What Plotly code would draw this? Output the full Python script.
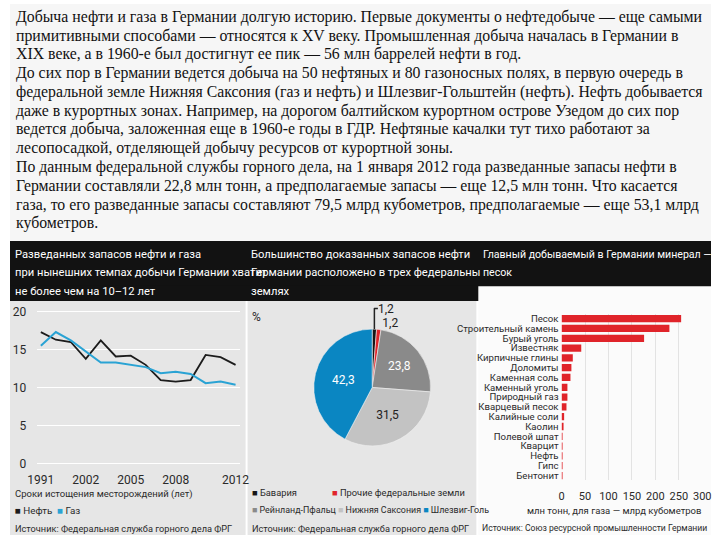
import plotly.graph_objects as go

# ---------------- data ----------------
para_lines = [
    "Добыча нефти и газа в Германии долгую историю. Первые документы о нефтедобыче — еще самыми",
    "примитивными способами — относятся к XV веку. Промышленная добыча началась в Германии в",
    "XIX веке, а в 1960-е был достигнут ее пик — 56 млн баррелей нефти в год.",
    "До сих пор в Германии ведется добыча на 50 нефтяных и 80 газоносных полях, в первую очередь в",
    "федеральной земле Нижняя Саксония (газ и нефть) и Шлезвиг-Гольштейн (нефть). Нефть добывается",
    "даже в курортных зонах. Например, на дорогом балтийском курортном острове Узедом до сих пор",
    "ведется добыча, заложенная еще в 1960-е годы в ГДР. Нефтяные качалки тут тихо работают за",
    "лесопосадкой, отделяющей добычу ресурсов от курортной зоны.",
    "По данным федеральной службы горного дела, на 1 января 2012 года разведанные запасы нефти в",
    "Германии составляли 22,8 млн тонн, а предполагаемые запасы — еще 12,5 млн тонн. Что касается",
    "газа, то его разведанные запасы составляют 79,5 млрд кубометров, предполагаемые — еще 53,1 млрд",
    "кубометров.",
]

years = ["1991", "1995", "2000", "2002", "2003", "2004", "2005", "2006",
         "2007", "2008", "2009", "2010", "2011", "2012"]
oil_years_left = [17.3, 16.3, 16.0, 13.8, 16.2, 14.1, 14.2, 13.0, 11.0, 10.8, 11.0, 14.3, 14.0, 13.0]
gas_years_left = [15.5, 17.3, 16.2, 14.8, 13.3, 13.3, 13.0, 12.7, 11.9, 12.1, 11.8, 10.6, 10.8, 10.4]
year_ticks = ["1991", "2002", "2005", "2008", "2012"]
line_y_ticks = [0, 5, 10, 15, 20]

pie_labels = ["Бавария", "Прочие федеральные земли", "Рейнланд-Пфальц",
              "Нижняя Саксония", "Шлезвиг-Гольштейн"]
pie_values = [1.2, 1.2, 23.8, 31.5, 42.3]
pie_text = ["1,2", "1,2", "23,8", "31,5", "42,3"]

minerals = ["Песок", "Строительный камень", "Бурый уголь", "Известняк", "Кирпичные глины",
            "Доломиты", "Каменная соль", "Каменный уголь", "Природный газ", "Кварцевый песок",
            "Калийные соли", "Каолин", "Полевой шпат", "Кварцит", "Нефть", "Гипс", "Бентонит"]
mineral_values = [255, 230, 176, 42, 24, 21, 19, 12.5, 12.5, 10.5, 5.5, 4.2, 2.0, 1.5, 1.2, 1.0, 0.4]
bar_ticks = [0, 50, 100, 150, 200, 250, 300]

# ---------------- styles ----------------
W, H = 720, 540
def X(px): return px / W
def Y(py): return 1 - py / H

NARROW = "Liberation Sans Narrow, Roboto, Liberation Sans, sans-serif"
SERIF = "Liberation Serif, Times New Roman, DejaVu Serif, serif"
OIL_C = "#1c1c1c"
GAS_C = "#2aa3d4"
PIE_C = ["#161616", "#e0242a", "#8a8a8a", "#c3c3c3", "#0a86c2"]
BAR_C = "#e0242a"
PANEL_BG = "#e6e6e6"
TXT = "#2a2a2a"

fig = go.Figure()

fig.add_trace(go.Scatter(x=years, y=oil_years_left, mode="lines", name="Нефть",
                         line=dict(color=OIL_C, width=1.8), xaxis="x", yaxis="y"))
fig.add_trace(go.Scatter(x=years, y=gas_years_left, mode="lines", name="Газ",
                         line=dict(color=GAS_C, width=2.0), xaxis="x", yaxis="y"))

fig.add_trace(go.Pie(labels=pie_labels, values=pie_values, text=pie_text, textinfo="text",
                     sort=False, direction="clockwise", rotation=0,
                     marker=dict(colors=PIE_C, line=dict(color="#f0f0f0", width=0.6)),
                     textposition=["outside", "outside", "inside", "inside", "inside"],
                     insidetextorientation="horizontal",
                     textfont=dict(family=NARROW, size=12),
                     insidetextfont=dict(color=["#ffffff", "#ffffff", "#ffffff", "#222222", "#ffffff"]),
                     outsidetextfont=dict(color="#222222"),
                     domain=dict(x=[X(312), X(432)], y=[Y(450), Y(330)]),
                     showlegend=False, hoverinfo="skip"))

fig.add_trace(go.Bar(x=mineral_values, y=minerals, orientation="h",
                     marker=dict(color=BAR_C, line=dict(width=0)), width=0.74,
                     xaxis="x3", yaxis="y3", showlegend=False))

shapes = [
    dict(type="rect", xref="paper", yref="paper", x0=0, x1=1, y0=Y(241), y1=1,
         fillcolor="#f6f6f6", line=dict(width=0), layer="below"),
    dict(type="rect", xref="paper", yref="paper", x0=X(0), x1=X(242), y0=Y(540), y1=Y(302),
         fillcolor=PANEL_BG, line=dict(width=0), layer="below"),
    dict(type="rect", xref="paper", yref="paper", x0=X(244), x1=X(479), y0=Y(540), y1=Y(302),
         fillcolor=PANEL_BG, line=dict(width=0), layer="below"),
    dict(type="rect", xref="paper", yref="paper", x0=X(481), x1=1, y0=Y(540), y1=Y(287),
         fillcolor="#fbfbfb", line=dict(width=0), layer="below"),
    dict(type="rect", xref="paper", yref="paper", x0=0, x1=1, y0=Y(287), y1=Y(241),
         fillcolor="#121212", line=dict(width=0), layer="below"),
    dict(type="rect", xref="paper", yref="paper", x0=0, x1=X(481), y0=Y(302), y1=Y(286),
         fillcolor="#121212", line=dict(width=0), layer="below"),
]

ann = []
for i, line in enumerate(para_lines):
    ann.append(dict(text=line, x=X(4), y=Y(13 + 19.1 * i), xref="paper", yref="paper",
                    xanchor="left", yanchor="middle", showarrow=False,
                    font=dict(family=SERIF, size=15.8, color="#111111")))

def add_text(txt, px, py, size=12, color=TXT, anchor="left"):
    ann.append(dict(text=txt, x=X(px), y=Y(py), xref="paper", yref="paper",
                    xanchor=anchor, yanchor="middle", showarrow=False,
                    font=dict(family=NARROW, size=size, color=color)))

# headers
for i, t in enumerate(["Разведанных запасов нефти и газа",
                       "при нынешних темпах добычи Германии хватит",
                       "не более чем на 10–12 лет"]):
    add_text(t, 3, 255 + 18.5 * i, size=11.2, color="#ffffff")
for i, t in enumerate(["Большинство доказанных запасов нефти",
                       "Германии расположено в трех федеральны",
                       "землях"]):
    add_text(t, 245, 255 + 18.5 * i, size=11.2, color="#ffffff")
for i, t in enumerate(["Главный добываемый в Германии минерал —", "песок"]):
    add_text(t, 484, 255 + 18.5 * i, size=10.6, color="#ffffff")

# panel 1 footer
add_text("Сроки истощения месторождений (лет)", 3, 498, size=9.5)
add_text(f"<span style='color:{OIL_C}'>■</span> Нефть  <span style='color:{GAS_C}'>■</span> Газ",
         3, 515, size=9.8)
add_text("Источник: Федеральная служба горного дела ФРГ", 3, 533, size=9.2)

# panel 2
add_text("%", 246, 318, size=12)
add_text(f"<span style='color:{PIE_C[0]}'>■</span> Бавария", 246, 497, size=9.3)
add_text(f"<span style='color:{PIE_C[1]}'>■</span> Прочие федеральные земли", 329, 497, size=9.3)
add_text(f"<span style='color:{PIE_C[2]}'>■</span> Рейнланд-Пфальц "
         f"<span style='color:{PIE_C[3]}'>■</span> Нижняя Саксония "
         f"<span style='color:{PIE_C[4]}'>■</span> Шлезвиг-Голь", 246, 515, size=8.9)
add_text("Источник: Федеральная служба горного дела ФРГ", 246, 533, size=9.2)

# panel 3
add_text("млн тонн, для газа — млрд кубометров", 620, 515, size=9.5, anchor="center")
add_text("Источник: Союз ресурсной промышленности Германии", 483, 533, size=8.6)

fig.update_layout(
    width=W, height=H, margin=dict(l=0, r=0, t=0, b=0), autosize=False,
    paper_bgcolor="#ffffff", plot_bgcolor="rgba(0,0,0,0)",
    showlegend=False, shapes=shapes, annotations=ann,
    font=dict(family=NARROW, color=TXT),
    xaxis=dict(domain=[X(28), X(236)], anchor="y", type="category",
               categoryorder="array", categoryarray=years,
               range=[-0.24, 13.28], tickmode="array", tickvals=year_ticks,
               showgrid=False, zeroline=False, showline=False, ticks="",
               tickfont=dict(size=12, color=TXT), ticklabelstandoff=5),
    yaxis=dict(domain=[Y(470), Y(310.4)], anchor="x", range=[-0.3, 20.3],
               tickmode="array", tickvals=line_y_ticks,
               showgrid=True, gridcolor="#ffffff", gridwidth=1.2, zeroline=False,
               showline=False, ticks="", tickfont=dict(size=12, color=TXT),
               ticklabelstandoff=10),
    xaxis3=dict(domain=[X(566.5), X(711)], anchor="y3", range=[0, 300],
                tickmode="array", tickvals=bar_ticks,
                showgrid=True, gridcolor="#e3e3e3", gridwidth=1, zeroline=False,
                showline=False, ticks="", tickfont=dict(size=11, color=TXT),
                ticklabelstandoff=8),
    yaxis3=dict(domain=[Y(484.5), Y(315)], anchor="x3", type="category",
                categoryorder="array", categoryarray=minerals, autorange="reversed",
                tickmode="linear", tick0=0, dtick=1,
                showgrid=False, zeroline=False, showline=False, ticks="",
                tickfont=dict(size=9.6, color=TXT), ticklabelstandoff=2),
    bargap=0.28,
)

fig.write_html("out.html", config={"displayModeBar": False},
               post_script="document.body.style.margin='0';document.body.style.overflow='hidden';")
